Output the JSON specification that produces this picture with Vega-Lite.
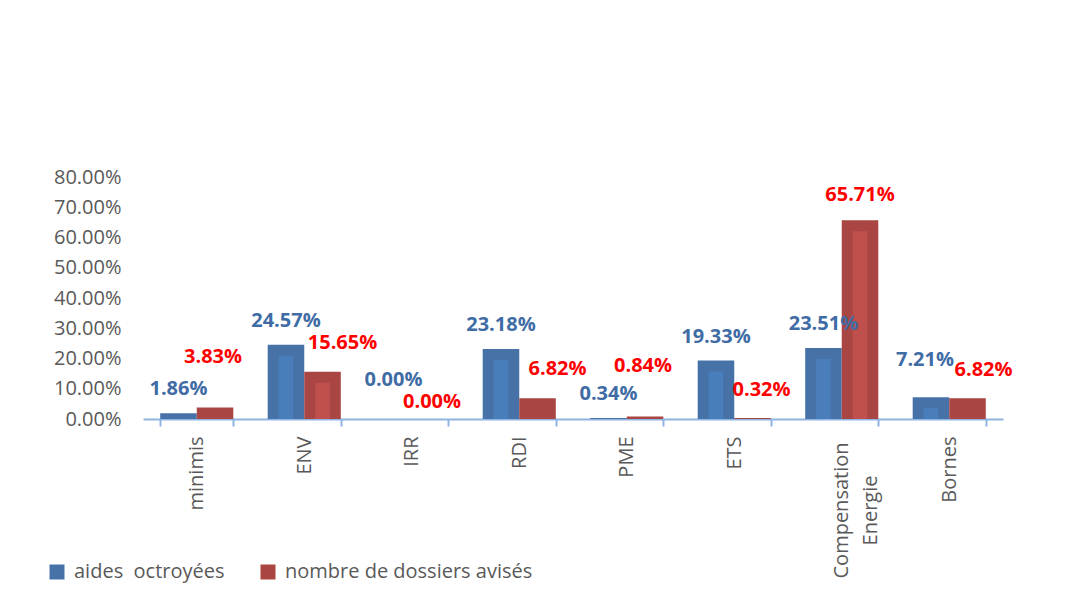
{
  "$schema": "https://vega.github.io/schema/vega-lite/v6.json",
  "width": 860,
  "height": 242,
  "autosize": {"type": "none"},
  "padding": {"left": 143, "top": 177, "right": 62, "bottom": 171},
  "background": "white",
  "config": {"view": {"stroke": null}},
  "data": {
    "values": [
      {"categorie": "minimis", "serie": "aides\u00a0 octroyées", "valeur": 0.0186},
      {"categorie": "minimis", "serie": "nombre de dossiers avisés", "valeur": 0.0383},
      {"categorie": "ENV", "serie": "aides\u00a0 octroyées", "valeur": 0.2457},
      {"categorie": "ENV", "serie": "nombre de dossiers avisés", "valeur": 0.1565},
      {"categorie": "IRR", "serie": "aides\u00a0 octroyées", "valeur": 0.0},
      {"categorie": "IRR", "serie": "nombre de dossiers avisés", "valeur": 0.0},
      {"categorie": "RDI", "serie": "aides\u00a0 octroyées", "valeur": 0.2318},
      {"categorie": "RDI", "serie": "nombre de dossiers avisés", "valeur": 0.0682},
      {"categorie": "PME", "serie": "aides\u00a0 octroyées", "valeur": 0.0034},
      {"categorie": "PME", "serie": "nombre de dossiers avisés", "valeur": 0.0084},
      {"categorie": "ETS", "serie": "aides\u00a0 octroyées", "valeur": 0.1933},
      {"categorie": "ETS", "serie": "nombre de dossiers avisés", "valeur": 0.0032},
      {"categorie": "Compensation Energie", "serie": "aides\u00a0 octroyées", "valeur": 0.2351},
      {"categorie": "Compensation Energie", "serie": "nombre de dossiers avisés", "valeur": 0.6571},
      {"categorie": "Bornes", "serie": "aides\u00a0 octroyées", "valeur": 0.0721},
      {"categorie": "Bornes", "serie": "nombre de dossiers avisés", "valeur": 0.0682}
    ]
  },
  "encoding": {
    "x": {
      "field": "categorie",
      "type": "nominal",
      "sort": null,
      "scale": {"type": "band", "paddingInner": 0.32, "paddingOuter": 0.16},
      "axis": {
        "title": null,
        "labelAngle": -90,
        "labelAlign": {"condition": {"test": "datum.value == 'Compensation Energie'", "value": "center"}, "value": "right"},
        "labelBaseline": "middle",
        "labelPadding": {"condition": {"test": "datum.value == 'Compensation Energie'", "value": 84}, "value": 10},
        "labelExpr": "datum.value == 'Compensation Energie' ? ['Compensation', 'Energie'] : datum.value",
        "labelLineHeight": 29,
        "labelFont": "Open Sans",
        "labelFontSize": 20,
        "labelColor": "#595959",
        "labelLimit": 0,
        "domainColor": "#8EB4E3",
        "domainWidth": 2,
        "tickColor": "#8EB4E3",
        "tickWidth": 2,
        "tickSize": 7,
        "tickBand": "extent"
      }
    },
    "xOffset": {
      "field": "serie",
      "type": "nominal",
      "sort": ["aides\u00a0 octroyées", "nombre de dossiers avisés"],
      "scale": {"type": "band", "domain": ["aides\u00a0 octroyées", "nombre de dossiers avisés"], "paddingInner": 0, "paddingOuter": 0}
    },
    "y": {
      "field": "valeur",
      "type": "quantitative",
      "stack": null,
      "scale": {"domain": [0, 0.8], "nice": false},
      "axis": {
        "title": null,
        "format": ".2%",
        "values": [0, 0.1, 0.2, 0.3, 0.4, 0.5, 0.6, 0.7, 0.8],
        "domain": false,
        "ticks": false,
        "grid": false,
        "labelFont": "Open Sans",
        "labelFontSize": 20,
        "labelColor": "#595959",
        "labelPadding": 22
      }
    },
    "text": {"field": "valeur", "type": "quantitative", "format": ".2%"}
  },
  "layer": [
    {
      "mark": {"type": "bar"},
      "encoding": {
        "text": null,
        "color": {
          "field": "serie",
          "type": "nominal",
          "sort": ["aides\u00a0 octroyées", "nombre de dossiers avisés"],
          "scale": {"domain": ["aides\u00a0 octroyées", "nombre de dossiers avisés"], "range": ["#4672A8", "#A94543"]},
          "legend": {
            "orient": "none",
            "legendX": -96,
            "legendY": 385,
            "direction": "horizontal",
            "title": null,
            "symbolType": "square",
            "symbolSize": 225,
            "symbolStrokeWidth": 0,
            "labelFont": "Open Sans",
            "labelFontSize": 20,
            "labelColor": "#595959",
            "labelOffset": 7,
            "labelLimit": 0,
            "columnPadding": 33
          }
        }
      }
    },
    {
      "transform": [{"filter": "datum.valeur > 0.07"}],
      "mark": {"type": "bar", "yOffset": 11, "y2Offset": -10},
      "encoding": {
        "text": null,
        "xOffset": {
          "field": "serie",
          "type": "nominal",
          "sort": ["aides\u00a0 octroyées", "nombre de dossiers avisés"],
          "scale": {"type": "band", "domain": ["aides\u00a0 octroyées", "nombre de dossiers avisés"], "paddingInner": 0.6, "paddingOuter": 0.3}
        },
        "color": {"condition": {"test": "datum.serie == 'nombre de dossiers avisés'", "value": "#C0504D"}, "value": "#4A7EBB"}
      }
    },
    {
      "transform": [{"filter": "datum.serie != 'nombre de dossiers avisés' && indexof(['IRR', 'Bornes'], datum.categorie) < 0"}],
      "mark": {"type": "text", "font": "Open Sans", "fontSize": 20, "fontWeight": "bold", "baseline": "middle", "dy": -24, "color": "#3F6CA5"}
    },
    {
      "transform": [{"filter": "datum.serie != 'nombre de dossiers avisés' && datum.categorie == 'IRR'"}],
      "mark": {"type": "text", "font": "Open Sans", "fontSize": 20, "fontWeight": "bold", "baseline": "middle", "dy": -39, "color": "#3F6CA5"}
    },
    {
      "transform": [{"filter": "datum.serie != 'nombre de dossiers avisés' && datum.categorie == 'Bornes'"}],
      "mark": {"type": "text", "font": "Open Sans", "fontSize": 20, "fontWeight": "bold", "baseline": "middle", "dy": -37, "dx": -6, "color": "#3F6CA5"}
    },
    {
      "transform": [{"filter": "datum.serie == 'nombre de dossiers avisés' && indexof(['minimis', 'PME'], datum.categorie) >= 0"}],
      "mark": {"type": "text", "font": "Open Sans", "fontSize": 20, "fontWeight": "bold", "baseline": "middle", "dy": -50, "dx": -2, "color": "#FF0000"}
    },
    {
      "transform": [{"filter": "datum.serie == 'nombre de dossiers avisés' && indexof(['ENV', 'RDI'], datum.categorie) >= 0"}],
      "mark": {"type": "text", "font": "Open Sans", "fontSize": 20, "fontWeight": "bold", "baseline": "middle", "dy": -29, "dx": 20, "color": "#FF0000"}
    },
    {
      "transform": [{"filter": "datum.serie == 'nombre de dossiers avisés' && datum.categorie == 'ETS'"}],
      "mark": {"type": "text", "font": "Open Sans", "fontSize": 20, "fontWeight": "bold", "baseline": "middle", "dy": -28, "dx": 9, "color": "#FF0000"}
    },
    {
      "transform": [{"filter": "datum.serie == 'nombre de dossiers avisés' && datum.categorie == 'Bornes'"}],
      "mark": {"type": "text", "font": "Open Sans", "fontSize": 20, "fontWeight": "bold", "baseline": "middle", "dy": -28, "dx": 16, "color": "#FF0000"}
    },
    {
      "transform": [{"filter": "datum.serie == 'nombre de dossiers avisés' && datum.categorie == 'IRR'"}],
      "mark": {"type": "text", "font": "Open Sans", "fontSize": 20, "fontWeight": "bold", "baseline": "middle", "dy": -17, "dx": 2, "color": "#FF0000"}
    },
    {
      "transform": [{"filter": "datum.serie == 'nombre de dossiers avisés' && datum.categorie == 'Compensation Energie'"}],
      "mark": {"type": "text", "font": "Open Sans", "fontSize": 20, "fontWeight": "bold", "baseline": "middle", "dy": -25, "color": "#FF0000"}
    }
  ],
  "resolve": {"scale": {"xOffset": "independent"}}
}
